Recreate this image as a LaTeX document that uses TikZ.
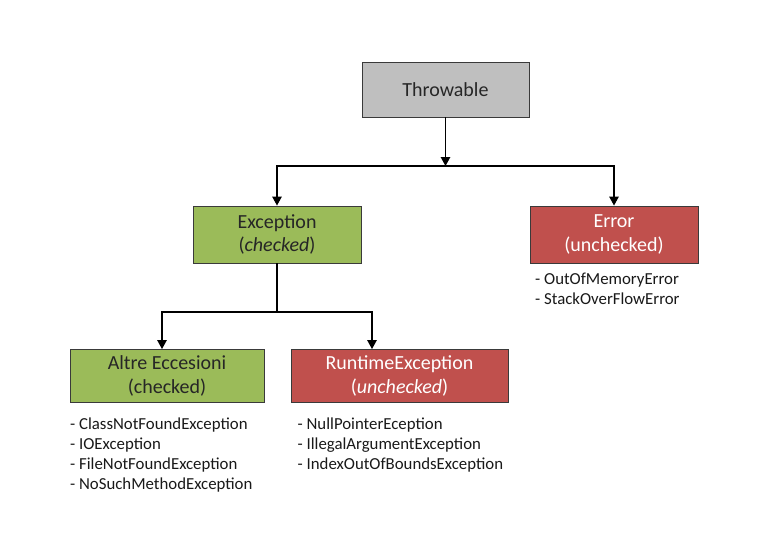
\documentclass[tikz,border=0pt]{standalone}
\usepackage{fontspec}
\setmainfont{Carlito}
\usetikzlibrary{arrows.meta,calc}
\definecolor{boxgray}{HTML}{BFBFBF}
\definecolor{boxgreen}{HTML}{9BBB59}
\definecolor{boxred}{HTML}{C0504D}
\definecolor{edge}{HTML}{3A3A3A}
\begin{document}
\begin{tikzpicture}[x=1pt,y=-1pt,
  box/.style={draw=edge,line width=0.9pt,inner sep=0pt,align=center,
    font=\fontsize{20}{23.5}\selectfont},
  graybox/.style={box,fill=boxgray,text=black!85},
  greenbox/.style={box,fill=boxgreen,text=black!85},
  redbox/.style={box,fill=boxred,text=white},
  lst/.style={anchor=base west,inner sep=0pt,align=left,text=black!90,
    font=\fontsize{16.8}{20.3}\selectfont},
  arr/.style={line width=1.3pt,-{Triangle[length=9pt,width=9.5pt]}},
  ln/.style={line width=1.3pt}]
\useasboundingbox[fill=white] (0,0) rectangle (781,538);
\node[graybox,minimum width=167pt,minimum height=55pt] (thr) at (445.5,89.5) {Throwable};
\node[greenbox,minimum width=168pt,minimum height=57pt] (exc) at (277,234.5) {Exception\\(\textit{checked})};
\node[redbox,minimum width=168pt,minimum height=57pt] (err) at (614,234.5) {Error\\(unchecked)};
\node[greenbox,minimum width=194pt,minimum height=53pt] (alt) at (167,376) {Altre Eccesioni\\(checked)};
\node[redbox,minimum width=217pt,minimum height=53pt] (rt) at (399.5,376) {RuntimeException\\(\textit{unchecked})};
\coordinate (j1) at (445.5,166);
\coordinate (j2) at (277,312);
\draw[arr] (thr.south) -- (j1);
\draw[arr] (j1) -| (exc.north);
\draw[arr] (j1) -| (err.north);
\draw[ln] (exc.south) -- (j2);
\draw[arr] (j2) -| ([xshift=-5pt]alt.north);
\draw[arr] (j2) -| ([xshift=-27.5pt]rt.north);
\node[lst] (errl) at (535,304.8) {- OutOfMemoryError\\- StackOverFlowError};
\node[lst] (altl) at (70,489.9) {- ClassNotFoundException\\- IOException\\- FileNotFoundException\\- NoSuchMethodException};
\node[lst] (rtl) at (297.5,469.6) {- NullPointerEception\\- IllegalArgumentException\\- IndexOutOfBoundsException};
\end{tikzpicture}
\end{document}
